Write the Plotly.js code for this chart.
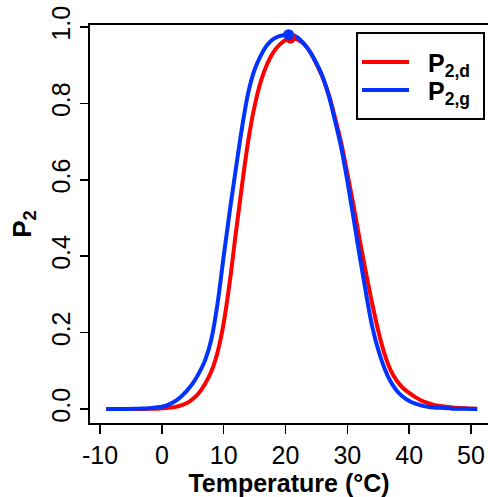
<!DOCTYPE html>
<html>
<head>
<meta charset="utf-8">
<script src="https://cdn.plot.ly/plotly-3.0.1.min.js"></script>
<style>html,body{margin:0;padding:0;overflow:hidden;background:#fff}</style>
</head>
<body>
<div id="chart" style="width:488px;height:497px"></div>
<script>
var temperature = [-9,-6,-4,-2,-1,0,1,2,3,4,5,6,7,8,9,10,11,12,13,14,15,16,17,18,19,20,21,22,23,24,25,26,27,28,29,30,31,32,33,34,35,36,37,38,39,40,41,42,43,44,45,47,49,51];
var p2d = [0,0,0,0.0005,0.001,0.002,0.003,0.005,0.009,0.015,0.026,0.042,0.066,0.098,0.148,0.225,0.335,0.465,0.59,0.705,0.793,0.857,0.902,0.933,0.953,0.966,0.971,0.967,0.955,0.934,0.903,0.868,0.823,0.763,0.697,0.617,0.533,0.443,0.358,0.278,0.205,0.145,0.102,0.074,0.055,0.042,0.031,0.022,0.016,0.011,0.008,0.004,0.002,0.001];
var p2g = [0,0,0.001,0.002,0.004,0.006,0.011,0.019,0.031,0.047,0.067,0.094,0.128,0.182,0.275,0.4,0.52,0.632,0.74,0.83,0.888,0.925,0.952,0.968,0.976,0.979,0.979,0.972,0.956,0.934,0.905,0.87,0.82,0.755,0.685,0.597,0.5,0.4,0.305,0.218,0.155,0.107,0.072,0.048,0.032,0.021,0.014,0.009,0.006,0.004,0.003,0.001,0.0005,0];
var peakD = {x: [20.8], y: [0.971]};
var peakG = {x: [20.5], y: [0.980]};
var xTicks = [-10,0,10,20,30,40,50];
var yTicks = [0,0.2,0.4,0.6,0.8,1.0];
var yTickText = ['0.0','0.2','0.4','0.6','0.8','1.0'];
var seriesNames = ['P<sub>2,d</sub>','P<sub>2,g</sub>'];

var RED = '#ff0000', BLUE = '#0033ff';
var FONT = 'Liberation Sans, Arial, Helvetica, sans-serif';

var traces = [
  {x: temperature, y: p2d, mode: 'lines', line: {color: RED, width: 4, shape: 'spline', smoothing: 1}, showlegend: false, hoverinfo: 'skip'},
  {x: temperature, y: p2g, mode: 'lines', line: {color: BLUE, width: 4, shape: 'spline', smoothing: 1}, showlegend: false, hoverinfo: 'skip'},
  {x: peakD.x, y: peakD.y, mode: 'markers', marker: {color: RED, size: 11}, showlegend: false},
  {x: peakG.x, y: peakG.y, mode: 'markers', marker: {color: BLUE, size: 11}, showlegend: false}
];

// legend box in paper coords (plot area: x 90..488, y 25..423)
function px(v){return (v-90)/398;}
function py(v){return (423-v)/398;}

var layout = {
  width: 488, height: 497,
  margin: {l: 90, r: 0, t: 25, b: 74, pad: 0},
  paper_bgcolor: '#fff', plot_bgcolor: '#fff',
  font: {family: FONT, color: '#000'},
  xaxis: {
    range: [-11.62, 52.75], tickvals: xTicks, ticktext: xTicks.map(String),
    showgrid: false, zeroline: false, showline: true, linecolor: '#000', linewidth: 2, mirror: true,
    ticks: 'outside', ticklen: 9, tickwidth: 1.5, tickcolor: '#000',
    tickfont: {size: 25, family: FONT, color: '#000'},
    title: {text: '<b>Temperature (°C)</b>', font: {size: 25, family: FONT, color: '#000'}, standoff: 6}
  },
  yaxis: {
    range: [-0.0366, 1.0052], tickvals: yTicks, ticktext: yTickText, tickangle: -90,
    showgrid: false, zeroline: false, showline: true, linecolor: '#000', linewidth: 2,
    ticks: 'outside', ticklen: 8, tickwidth: 1.5, tickcolor: '#000',
    tickfont: {size: 25, family: FONT, color: '#000'},
    title: {text: '<b>P<sub>2</sub></b>', font: {size: 26, family: FONT, color: '#000'}, standoff: 8}
  },
  shapes: [
    {type: 'rect', xref: 'paper', yref: 'paper', x0: px(357), x1: px(484), y0: py(119), y1: py(33), line: {color: '#000', width: 2}, fillcolor: '#fff', layer: 'above'},
    {type: 'line', xref: 'paper', yref: 'paper', x0: px(362), x1: px(409), y0: py(62), y1: py(62), line: {color: RED, width: 4}, layer: 'above'},
    {type: 'line', xref: 'paper', yref: 'paper', x0: px(362), x1: px(409), y0: py(90), y1: py(90), line: {color: BLUE, width: 4}, layer: 'above'}
  ],
  annotations: [
    {xref: 'paper', yref: 'paper', x: px(426), y: py(65), xanchor: 'left', yanchor: 'middle', showarrow: false, text: '<b>' + seriesNames[0] + '</b>', font: {size: 25, family: FONT, color: '#000'}},
    {xref: 'paper', yref: 'paper', x: px(426), y: py(93), xanchor: 'left', yanchor: 'middle', showarrow: false, text: '<b>' + seriesNames[1] + '</b>', font: {size: 25, family: FONT, color: '#000'}}
  ]
};

Plotly.newPlot('chart', traces, layout, {displayModeBar: false, staticPlot: true});
</script>
</body>
</html>
